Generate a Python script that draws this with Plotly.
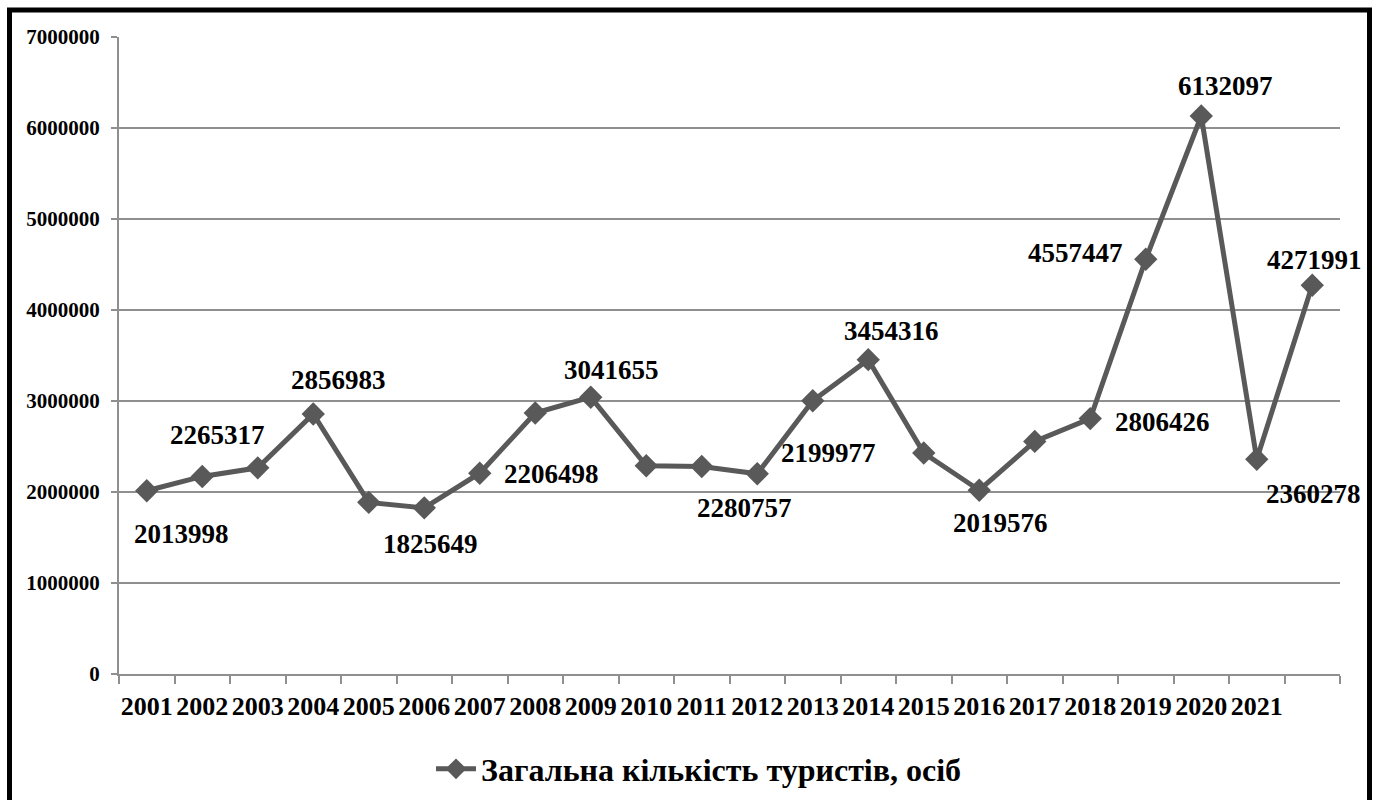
import plotly.graph_objects as go

# Tourist totals per year (last point has no year caption on the axis)
years = [str(y) for y in range(2001, 2022)]
tourists = [2013998, 2171000, 2265317, 2856983, 1886000, 1825649, 2206498,
            2868000, 3041655, 2289000, 2280757, 2199977, 3003000, 3454316,
            2428000, 2019576, 2556000, 2806426, 4557447, 6132097, 2360278,
            4271991]
# Indices of points that carry a value caption
labelled = [0, 2, 3, 5, 6, 8, 10, 11, 13, 15, 17, 18, 19, 20, 21]
series_name = "Загальна кількість туристів, осіб"

# Caption offsets in pixels (right, down) relative to each point
label_offsets = {
    0: (35, 43), 2: (-40, -33), 3: (25, -34), 5: (6, 36), 6: (72, 1),
    8: (21, -27), 10: (43, 42), 11: (71, -21), 13: (23, -29), 15: (21, 33),
    17: (72, 3), 18: (-70, -6), 19: (24, -30), 20: (57, 35), 21: (2, -25),
}

W, H = 1381, 800
ML, MR, MT, MB = 119, 41, 37, 126
PW, PH = W - ML - MR, H - MT - MB

FONT = "Liberation Serif, Times New Roman, serif"
LINE_COLOR = "#595959"
GRID_COLOR = "#8f8f8f"

xs = list(range(len(tourists)))

fig = go.Figure()
fig.add_trace(go.Scatter(
    x=xs, y=tourists, mode="lines+markers", name=series_name,
    line=dict(color=LINE_COLOR, width=5),
    marker=dict(symbol="diamond", size=18, color=LINE_COLOR),
    showlegend=True,
))

annotations = []
for i in labelled:
    dx, dy = label_offsets[i]
    annotations.append(dict(
        x=xs[i], y=tourists[i], xref="x", yref="y", text=str(tourists[i]),
        showarrow=False, xshift=dx, yshift=-dy,
        font=dict(family=FONT, size=27, color="black", weight="bold"),
    ))


def px_to_paper(px, py):
    return (px - ML) / PW, 1 - (py - MT) / PH


x0, y0 = px_to_paper(9.5, 10)
x1, y1 = px_to_paper(1369.5, 812)

fig.update_layout(
    width=W, height=H,
    margin=dict(l=ML, r=MR, t=MT, b=MB, autoexpand=False),
    paper_bgcolor="white", plot_bgcolor="white",
    font=dict(family=FONT, color="black"),
    annotations=annotations,
    shapes=[dict(type="rect", xref="paper", yref="paper",
                 x0=x0, y0=y0, x1=x1, y1=y1,
                 line=dict(color="black", width=5), layer="above")],
    legend=dict(orientation="h", x=px_to_paper(699, 0)[0], xanchor="center",
                y=px_to_paper(0, 769)[1], yanchor="middle",
                font=dict(family=FONT, size=32, color="black", weight="bold"),
                itemwidth=40, bgcolor="rgba(0,0,0,0)"),
    xaxis=dict(
        range=[-0.5, len(tourists) - 0.5],
        tickmode="array", tickvals=list(range(len(years))), ticktext=years,
        tickangle=0, ticks="", showgrid=False, zeroline=False,
        showline=True, linecolor=GRID_COLOR, linewidth=2,
        tickfont=dict(family=FONT, size=26, color="black", weight="bold"),
        ticklabelstandoff=8,
        minor=dict(tickmode="linear", tick0=-0.5, dtick=1, ticks="outside",
                   ticklen=8, tickwidth=2, tickcolor=GRID_COLOR,
                   showgrid=False),
    ),
    yaxis=dict(
        range=[0, 7000000], tickmode="linear", tick0=0, dtick=1000000,
        tickformat="d", ticks="outside", ticklen=6, tickwidth=2,
        tickcolor=GRID_COLOR, showgrid=True, gridcolor=GRID_COLOR,
        gridwidth=2, zeroline=False, showline=True, linecolor=GRID_COLOR,
        linewidth=2,
        tickfont=dict(family=FONT, size=21, color="black", weight="bold"),
        ticklabelstandoff=7,
    ),
)

fig.write_html("out.html")
